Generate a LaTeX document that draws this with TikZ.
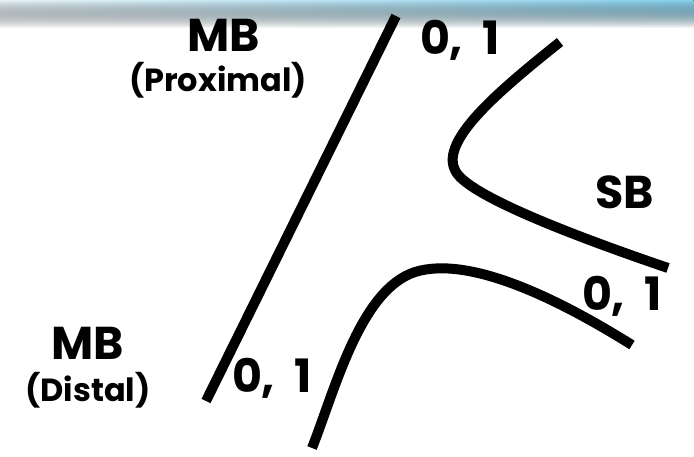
\documentclass[tikz,border=0pt]{standalone}
\usepackage{fontspec}
\setmainfont{Poppins}
\usetikzlibrary{fadings}
\definecolor{skyR}{RGB}{135,208,236}
\definecolor{skyL}{RGB}{232,244,249}
\begin{document}
\begin{tikzpicture}[x=1pt,y=-1pt,
  bone/.style={line width=10pt,line cap=butt},
  big/.style={font=\bfseries\fontsize{46}{50}\selectfont,inner sep=0pt},
  small/.style={font=\bfseries\fontsize{32}{36}\selectfont,inner sep=0pt}]
\useasboundingbox (0,0) rectangle (694,457);
\fill[white] (0,0) rectangle (694,457);
\fill[left color=skyL, right color=skyR, path fading=south] (0,0) rectangle (694,28);
% lines
\coordinate (mbtop) at (396,16);
\coordinate (mbbot) at (206,401);
\draw[bone] (mbtop) -- (mbbot);
\draw[bone] (560,42) .. controls (500,90) and (440,140) .. (455,170) .. controls (465,195) and (580,238) .. (668,268);
\draw[bone] (632,345) .. controls (560,300) and (470,255) .. (415,272) .. controls (360,290) and (335,390) .. (312,448);
% labels
\node[big] (mbp) at (224,35) {MB};
\node[small] (prox) at (218,80) {(Proximal)};
\node[big] (z1) at (460,40) {0,\ \ 1};
\node[big] (sb) at (625,192) {SB};
\node[big] (z2) at (622,296) {0,\ \ 1};
\node[big] (mbd) at (88,343) {MB};
\node[small] (dist) at (88,390) {(Distal)};
\node[big] (z3) at (272,378) {0,\ \ 1};
\end{tikzpicture}
\end{document}
